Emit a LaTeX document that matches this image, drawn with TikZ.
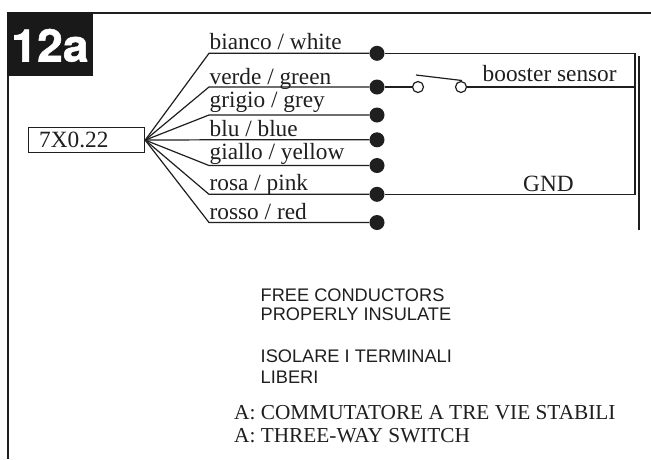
\documentclass[tikz,border=0pt]{standalone}
\usepackage{fontspec}
\setmainfont{Liberation Serif}
\newfontfamily\arialf{Liberation Sans}
\newfontfamily\heavyf[UprightFont=*-Bold,UprightFeatures={FakeBold=1.2,FakeStretch=1.03}]{TeX Gyre Heros}
\tikzset{
  wire/.style={line width=1.2pt,draw=black!88},
  frameline/.style={line width=2.8pt,draw=black!88},
  lab/.style={anchor=base west,inner sep=0pt,font=\fontsize{23.3}{25}\selectfont,text=black!88},
  note/.style={anchor=base west,inner sep=0pt,font=\arialf\fontsize{18.2}{20}\selectfont,text=black!88},
  captxt/.style={anchor=base west,inner sep=0pt,font=\fontsize{21.3}{23}\selectfont,text=black!88},
  pin/.style={circle,fill=black!88,inner sep=0pt,minimum size=15pt},
  contact/.style={circle,draw=black!88,fill=white,line width=1.2pt,inner sep=0pt,minimum size=11pt},
}
\begin{document}
\begin{tikzpicture}[x=1pt,y=-1pt]
\useasboundingbox (0,0) rectangle (651,459);
\fill[white] (0,0) rectangle (651,459);
% frame
\coordinate (ftl) at (8,13);
\coordinate (ftr) at (651,13);
\coordinate (fbl) at (8,459);
\draw[frameline] (ftr) -- (ftl) -- (fbl);
\fill[black!90] (7,12) rectangle (93,76);
\node[inner sep=0pt,text=white,anchor=base] (title) at (50,61.5) {\heavyf\fontsize{45}{45}\selectfont 12a};
% cable box
\node[draw=black!88,line width=1.2pt,minimum width=116pt,minimum height=25pt,inner sep=0pt,anchor=north west] (cable) at (28,127) {};
\node[lab,anchor=base west] (cabletxt) at (39,147.5) {7X0.22};
% wires
\foreach \n/\y in {a/53.3,b/87,c/115,d/139.8,e/165.5,f/194.3,g/222.5}{
  \coordinate (k\n) at (209,\y);
  \node[pin] (p\n) at (377,\y) {};
  \draw[wire] (cable.east) -- (k\n) -- (p\n);
}
% labels
\node[lab] (la) at (209.5,49.3) {bianco / white};
\node[lab] (lb) at (209.5,84) {verde / green};
\node[lab] (lc) at (209.5,107.3) {grigio / grey};
\node[lab] (ld) at (209.5,136.7) {blu / blue};
\node[lab] (le) at (209.5,159.3) {giallo / yellow};
\node[lab] (lf) at (209.5,190.7) {rosa / pink};
\node[lab] (lg) at (209.5,219) {rosso / red};
% right side
\coordinate (ra) at (635,53.3);
\coordinate (rb) at (635,87);
\coordinate (rf) at (635,194.3);
\node[contact] (s1) at (418,87) {};
\node[contact] (s2) at (461,87) {};
\draw[wire] (pa) -- (ra) -- (rf) -- (pf);
\draw[wire] (pb) -- (s1);
\draw[wire] (s2) -- (rb);
\coordinate (arma) at (416,75);
\coordinate (armb) at (462,80.5);
\draw[wire] (arma) -- (armb);
\coordinate (bt) at (639,56);
\coordinate (bb) at (639,230);
\draw[wire,line width=1.4pt] (bt) -- (bb);
\node[lab] (bs) at (482.5,81) {booster sensor};
\node[lab] (gnd) at (523,191) {GND};
% notes
\node[note] (n1) at (260.5,301.7) {FREE CONDUCTORS};
\node[note] (n2) at (260.5,320.7) {PROPERLY INSULATE};
\node[note] (n3) at (260.5,362) {ISOLARE I TERMINALI};
\node[note] (n4) at (260.5,383) {LIBERI};
\node[captxt] (c1) at (234,419) {A: COMMUTATORE A TRE VIE STABILI};
\node[captxt] (c2) at (234,442) {A: THREE-WAY SWITCH};
\end{tikzpicture}
\end{document}
